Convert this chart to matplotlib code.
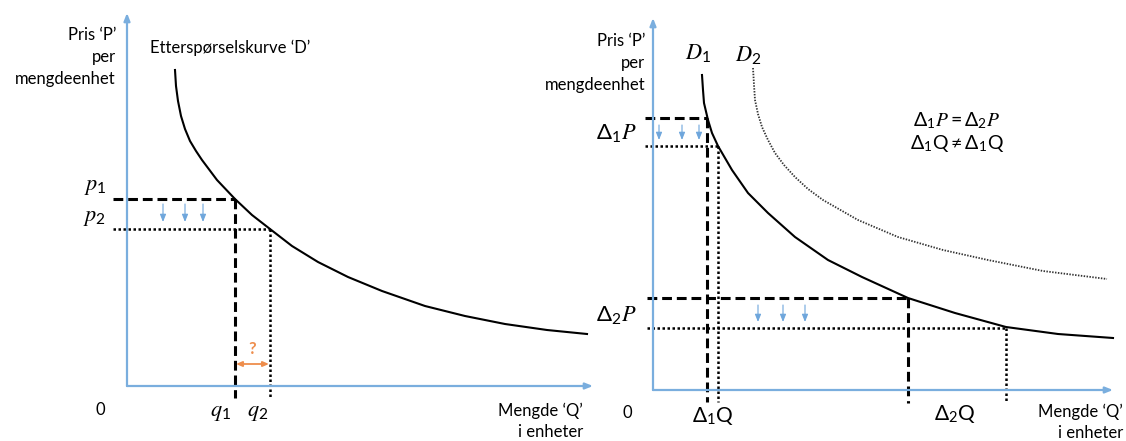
import matplotlib.pyplot as plt

plt.rcParams['font.family'] = ['Lato', 'DejaVu Sans']
plt.rcParams['mathtext.fontset'] = 'custom'
plt.rcParams['mathtext.rm'] = 'Lato'
plt.rcParams['mathtext.sf'] = 'Lato'
plt.rcParams['mathtext.it'] = 'STIXGeneral:italic'

# venstre figur: etterspørselskurve D (mengde Q, pris P)
d_q = [48, 49, 51, 54, 58, 63, 69, 75, 90, 108, 125, 143, 165, 191, 221, 255, 298, 338, 378, 420, 460]
d_p = [316, 300, 285, 270, 257, 245, 235, 226, 206, 187, 171, 157, 140, 124, 109, 95, 80, 70, 62, 56, 52]
p1, p2 = 187, 157
q1, q2 = 108, 143

# høyre figur: D1 og D2
d1_q = [49, 50, 51, 55, 59, 65, 79, 95, 115, 142, 175, 209, 255, 302, 353, 405, 460]
d1_p = [315, 300, 287, 270, 257, 244, 220, 197, 177, 153, 130, 113, 92, 77, 63, 56, 52]
d2_q = [100, 101, 102, 105, 109, 115, 122, 131, 142, 155, 170, 205, 245, 290, 335, 390, 454]
d2_p = [322, 305, 290, 276, 263, 250, 237, 225, 213, 201, 190, 170, 153, 140, 130, 119, 111]
dp1 = (272, 244)
dq1 = (54, 65)
dp2 = (92, 62)
dq2 = (255, 353)

W, H = 1126, 441
blue = '#7aaede'
arrow_blue = '#6ea6dc'
orange = '#ee8d4c'
dash = (0, (3.2, 1.6))
dot = (0, (1, 1))
fs = 12

fig = plt.figure(figsize=(W / 100, H / 100), dpi=100)


def make_axes(x0, y0, w, h):
    ax = fig.add_axes([x0 / W, (H - y0) / H, w / W, h / H])
    ax.set_xlim(0, w)
    ax.set_ylim(0, h)
    ax.axis('off')
    for xy in [(w, 0), (0, h)]:
        ax.annotate('', xy=xy, xytext=(0, 0), annotation_clip=False,
                    arrowprops=dict(arrowstyle='-|>,head_length=0.45,head_width=0.18',
                                    color=blue, lw=1.6, shrinkA=0, shrinkB=0))
    return ax


def down_arrows(ax, xs, top, bottom):
    for x in xs:
        ax.annotate('', xy=(x, bottom), xytext=(x, top), annotation_clip=False,
                    arrowprops=dict(arrowstyle='-|>,head_length=0.45,head_width=0.18',
                                    color=arrow_blue, lw=0.8, shrinkA=0, shrinkB=0))


# ---- venstre ----
ax = make_axes(127, 386, 466, 373)
ax.plot(d_q, d_p, color='black', lw=1.5, clip_on=False, solid_joinstyle='round')
ax.plot([-14, q1], [p1, p1], color='black', lw=2.2, ls=dash, clip_on=False)
ax.plot([q1, q1], [p1, -12], color='black', lw=2.2, ls=dash, clip_on=False)
ax.plot([-14, q2], [p2, p2], color='black', lw=1.8, ls=dot, clip_on=False)
ax.plot([q2, q2], [p2, -12], color='black', lw=1.8, ls=dot, clip_on=False)
down_arrows(ax, [36, 58, 76], p1 - 5, p2 + 7)
ax.annotate('', xy=(q2 - 1, 22), xytext=(q1 + 1, 22), annotation_clip=False,
            arrowprops=dict(arrowstyle='<|-|>,head_length=0.35,head_width=0.15',
                            color=orange, lw=1.3, shrinkA=0, shrinkB=0))
ax.text((q1 + q2) / 2, 37, '?', color=orange, fontsize=12, fontweight='bold',
        ha='center', va='center')

ax.text(-11, 329, "Pris \u2018P\u2019\nper\nmengdeenhet", ha='right', va='center',
        multialignment='right', fontsize=fs, linespacing=1.45)
ax.text(23, 338, "Etterspørselskurve \u2018D\u2019", ha='left', va='center', fontsize=fs)
ax.text(-32, p1 + 12, '$p_1$', ha='center', va='center', fontsize=16)
ax.text(-32, p2 + 11, '$p_2$', ha='center', va='center', fontsize=16)
ax.text(q1 - 15, -27, '$q_1$', ha='center', va='center', fontsize=16)
ax.text(q2 - 12, -27, '$q_2$', ha='center', va='center', fontsize=16)
ax.text(-27, -24, '0', ha='center', va='center', fontsize=fs)
ax.text(456, -35, "Mengde \u2018Q\u2019\ni enheter", ha='right', va='center',
        multialignment='right', fontsize=fs, linespacing=1.4)

# ---- høyre ----
ax = make_axes(653, 390, 460, 372)
ax.plot(d1_q, d1_p, color='black', lw=1.5, clip_on=False, solid_joinstyle='round')
ax.plot(d2_q, d2_p, color='#333333', lw=1.3, ls=(0, (0.8, 0.8)), clip_on=False)
ax.plot([-8, dq1[0]], [dp1[0], dp1[0]], color='black', lw=2.2, ls=dash, clip_on=False)
ax.plot([dq1[0], dq1[0]], [dp1[0], -12], color='black', lw=2.2, ls=dash, clip_on=False)
ax.plot([-8, dq1[1]], [dp1[1], dp1[1]], color='black', lw=1.8, ls=dot, clip_on=False)
ax.plot([dq1[1], dq1[1]], [dp1[1], -12], color='black', lw=1.8, ls=dot, clip_on=False)
ax.plot([-6, dq2[0]], [dp2[0], dp2[0]], color='black', lw=2.2, ls=dash, clip_on=False)
ax.plot([dq2[0], dq2[0]], [dp2[0], -13], color='black', lw=2.2, ls=dash, clip_on=False)
ax.plot([-6, dq2[1]], [dp2[1], dp2[1]], color='black', lw=1.8, ls=dot, clip_on=False)
ax.plot([dq2[1], dq2[1]], [dp2[1], -13], color='black', lw=1.8, ls=dot, clip_on=False)
down_arrows(ax, [6, 29, 46], dp1[0] - 7, dp1[1] + 6)
down_arrows(ax, [105, 130, 152], dp2[0] - 7, dp2[1] + 6)

ax.text(-8, 327, "Pris \u2018P\u2019\nper\nmengdeenhet", ha='right', va='center',
        multialignment='right', fontsize=fs, linespacing=1.45)
ax.text(45, 337, '$D_1$', ha='center', va='center', fontsize=16)
ax.text(95, 335, '$D_2$', ha='center', va='center', fontsize=16)
ax.text(-16, 257, r'$\Delta_1 P$', ha='right', va='center', fontsize=16)
ax.text(-16, 75, r'$\Delta_2 P$', ha='right', va='center', fontsize=16)
ax.text(-26, -23, '0', ha='center', va='center', fontsize=fs)
ax.text(60, -26, r'$\Delta_1\mathrm{Q}$', ha='center', va='center', fontsize=15)
ax.text(302, -24, r'$\Delta_2\mathrm{Q}$', ha='center', va='center', fontsize=15)
ax.text(470, -32, "Mengde \u2018Q\u2019\ni enheter", ha='right', va='center',
        multialignment='right', fontsize=fs, linespacing=1.4)
ax.text(304, 269, r'$\Delta_1 P = \Delta_2 P$', ha='center', va='center', fontsize=14)
ax.text(304, 246, r'$\Delta_1\mathrm{Q} \neq \Delta_1\mathrm{Q}$', ha='center', va='center', fontsize=14)

fig.savefig('out.png', dpi=100)
